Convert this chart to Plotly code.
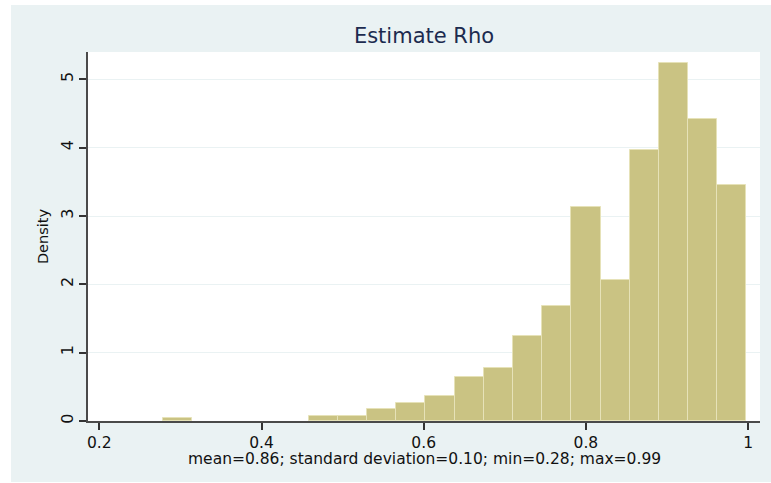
import plotly.graph_objects as go

# Histogram of the rho estimates (density scale), 20 equal-width bins
bin_start = 0.278
bin_width = 0.036
density = [0.05, 0, 0, 0, 0, 0.079, 0.079, 0.176, 0.27, 0.372,
           0.64, 0.782, 1.245, 1.69, 3.13, 2.06, 3.965, 5.243, 4.414, 3.452]

x_ticks = [0.2, 0.4, 0.6, 0.8, 1.0]
x_tick_labels = ["0.2", "0.4", "0.6", "0.8", "1"]
y_ticks = [0, 1, 2, 3, 4, 5]

title_text = "Estimate Rho"
note_text = "mean=0.86; standard deviation=0.10; min=0.28; max=0.99"

centers = [bin_start + (i + 0.5) * bin_width for i, d in enumerate(density) if d > 0]
heights = [d for d in density if d > 0]

W, H = 771, 483
ML, MR, MT, MB = 88, 11, 52, 62
pw, ph = W - ML - MR, H - MT - MB

FONT = "DejaVu Sans"
BG = "#EAF2F3"

fig = go.Figure(go.Bar(
    x=centers, y=heights, width=bin_width,
    marker=dict(color="#CAC383", line=dict(color="#E6E2B8", width=1)),
    hoverinfo="x+y",
))

fig.update_layout(
    width=W, height=H,
    margin=dict(l=ML, r=MR, t=MT, b=MB),
    paper_bgcolor="white",
    plot_bgcolor="white",
    showlegend=False,
    bargap=0,
    font=dict(family=FONT, size=16, color="#111111"),
    title=dict(text=title_text, x=0.5, xref="paper", xanchor="center",
               y=1 - 36 / H, yanchor="middle",
               font=dict(family=FONT, size=21, color="#1C2B4F")),
    xaxis=dict(range=[0.18607, 1.01467], tickvals=x_ticks, ticktext=x_tick_labels,
               showgrid=False, zeroline=False, showline=True,
               linecolor="#4A4A4A", linewidth=2, ticks="outside", ticklen=7,
               tickcolor="#333333", tickwidth=2, tickfont=dict(size=15.5),
               ticklabelstandoff=-1),
    yaxis=dict(range=[0, 5.40], tickvals=y_ticks, tickangle=-90,
               showgrid=True, gridcolor=BG, gridwidth=1, zeroline=False,
               showline=True, linecolor="#4A4A4A", linewidth=2,
               ticks="outside", ticklen=7, tickcolor="#333333", tickwidth=2,
               tickfont=dict(size=16),
               title=dict(text="Density", font=dict(size=14.5), standoff=6)),
    shapes=[
        dict(type="rect", xref="paper", yref="paper", layer="below",
             x0=(11 - ML) / pw, x1=(771 - ML) / pw,
             y0=(H - MB - 482) / ph, y1=(H - MB - 5) / ph,
             fillcolor=BG, line=dict(width=0)),
        dict(type="rect", xref="paper", yref="paper", layer="below",
             x0=0, x1=1, y0=0, y1=1,
             fillcolor="white", line=dict(width=0)),
    ],
    annotations=[
        dict(text=note_text, xref="paper", yref="paper", x=0.5,
             y=-(459 - (H - MB)) / ph, xanchor="center", yanchor="middle",
             showarrow=False, font=dict(family=FONT, size=15.5, color="#111111")),
    ],
)

fig.write_html("out.html")
